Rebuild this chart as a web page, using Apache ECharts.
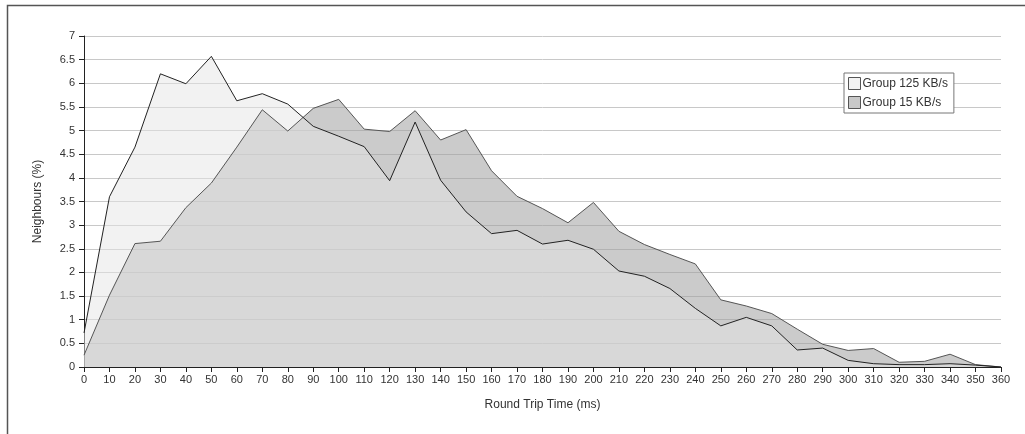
<!DOCTYPE html>
<html>
<head>
<meta charset="utf-8">
<script src="https://cdn.jsdelivr.net/npm/echarts@6/dist/echarts.min.js"></script>
<style>html,body{margin:0;padding:0;background:#fff}#c{width:1025px;height:434px}</style>
</head>
<body>
<div id="c"></div>
<script>
var rtt = [0,10,20,30,40,50,60,70,80,90,100,110,120,130,140,150,160,170,180,190,200,210,220,230,240,250,260,270,280,290,300,310,320,330,340,350,360];
var group125 = [0.72,3.6,4.65,6.2,5.99,6.57,5.63,5.78,5.56,5.09,4.88,4.66,3.94,5.18,3.95,3.28,2.82,2.89,2.6,2.68,2.49,2.03,1.92,1.66,1.24,0.87,1.05,0.87,0.36,0.4,0.14,0.07,0.05,0.05,0.07,0.04,0.0];
var group15 = [0.25,1.52,2.61,2.66,3.37,3.89,4.65,5.44,4.99,5.47,5.66,5.03,4.98,5.42,4.8,5.02,4.15,3.61,3.35,3.05,3.48,2.87,2.59,2.38,2.18,1.42,1.29,1.13,0.8,0.48,0.35,0.39,0.1,0.12,0.27,0.05,0.0];
var seriesNames = ['Group 125 KB/s','Group 15 KB/s'];
var xName = 'Round Trip Time (ms)';
var yName = 'Neighbours (%)';

function pairs(xs, ys){ return xs.map(function(x,i){ return [x, ys[i]]; }); }

var font = 'Liberation Sans, Arial, sans-serif';
var chart = echarts.init(document.getElementById('c'), null, {renderer:'canvas'});
chart.setOption({
  animation: false,
  backgroundColor: '#fff',
  grid: {left: 84, right: 24, top: 36, bottom: 67, containLabel: false},
  graphic: [{
    type: 'polyline',
    shape: {points: [[7.5,434],[7.5,5.5],[1025,5.5]]},
    style: {stroke: '#555', lineWidth: 1.5, fill: null},
    silent: true
  }],
  legend: {
    orient: 'vertical',
    left: 844, top: 73,
    padding: [4, 6, 4, 4],
    itemWidth: 12, itemHeight: 12, itemGap: 6,
    backgroundColor: '#fff',
    borderColor: '#777', borderWidth: 1,
    icon: 'rect',
    textStyle: {fontFamily: font, fontSize: 12, color: '#333', padding: [0,0,0,-3]},
    data: [
      {name: seriesNames[0], itemStyle: {color: '#f2f2f2', borderColor: '#555', borderWidth: 1}},
      {name: seriesNames[1], itemStyle: {color: '#c8c8c8', borderColor: '#555', borderWidth: 1}}
    ]
  },
  xAxis: {
    type: 'value', min: 0, max: 360, interval: 10,
    name: xName, nameLocation: 'middle', nameGap: 32,
    nameTextStyle: {fontFamily: font, fontSize: 12, color: '#333'},
    axisLine: {lineStyle: {color: '#222', width: 1}},
    axisTick: {show: true, length: 5, lineStyle: {color: '#222'}},
    axisLabel: {fontFamily: font, fontSize: 11, color: '#333', margin: 7},
    splitLine: {show: false}
  },
  yAxis: {
    type: 'value', min: 0, max: 7, interval: 0.5,
    name: yName, nameLocation: 'middle', nameGap: 40, nameRotate: 90,
    nameTextStyle: {fontFamily: font, fontSize: 12, color: '#333'},
    axisLine: {show: true, lineStyle: {color: '#222', width: 1}},
    axisTick: {show: true, length: 5, lineStyle: {color: '#222'}},
    axisLabel: {fontFamily: font, fontSize: 11, color: '#333', margin: 9},
    splitLine: {show: true, lineStyle: {color: '#c8c8c8', width: 1}}
  },
  series: [
    {
      name: seriesNames[1], type: 'line', data: pairs(rtt, group15),
      symbol: 'none', smooth: false,
      lineStyle: {color: '#555', width: 1},
      itemStyle: {color: '#c8c8c8'},
      areaStyle: {color: 'rgb(160,160,160)', opacity: 0.55}
    },
    {
      name: seriesNames[0], type: 'line', data: pairs(rtt, group125),
      symbol: 'none', smooth: false,
      lineStyle: {color: '#222', width: 1},
      itemStyle: {color: '#f2f2f2'},
      areaStyle: {color: 'rgb(229,229,229)', opacity: 0.5}
    }
  ]
});
</script>
</body>
</html>
